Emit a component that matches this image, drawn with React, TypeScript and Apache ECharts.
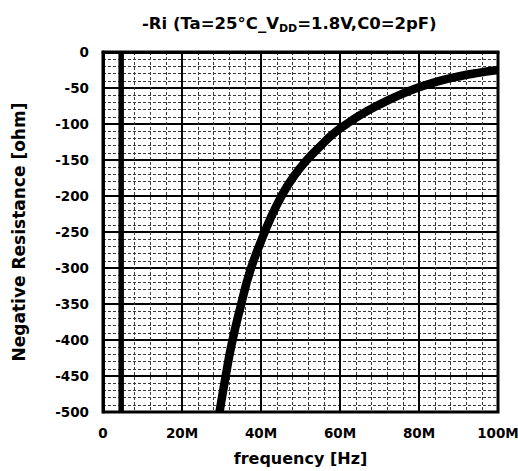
import React, { useEffect, useRef } from "react";
import * as echarts from "echarts";

const freqMHz = [29.5, 31, 32.6, 34.9, 37.2, 40, 42.5, 45.2, 48, 51.6, 55, 58, 61.7, 65, 70, 75, 80, 85, 90, 95, 100];
const negResistance = [-500, -452, -405, -352, -305, -263, -230, -200, -175, -150, -131, -115, -100, -88, -73, -60, -49, -40.5, -34, -29, -25];
const markerFreqMHz = [4.6, 4.6];
const markerValues = [0, -500];
const xTicks = [0, 20, 40, 60, 80, 100];
const yTicks = [0, -50, -100, -150, -200, -250, -300, -350, -400, -450, -500];

const FONT = "DejaVu Sans";

export default function App() {
  const ref = useRef<HTMLDivElement>(null);
  useEffect(() => {
    if (!ref.current) return;
    const chart = echarts.init(ref.current, null, { renderer: "svg" });
    const curve = freqMHz.map((f, i) => [f, negResistance[i]]);
    const marker = markerFreqMHz.map((f, i) => [f, markerValues[i]]);
    chart.setOption({
      animation: false,
      backgroundColor: "#fff",
      title: {
        text: "{a|-Ri (Ta=25°C_V}{b|DD}{a|=1.8V,C0=2pF)}",
        left: 137,
        top: 7,
        textStyle: {
          rich: {
            a: { fontFamily: FONT, fontWeight: "bold", fontSize: 16.5, color: "#000", lineHeight: 22 },
            b: { fontFamily: FONT, fontWeight: "bold", fontSize: 11, color: "#000", lineHeight: 12, verticalAlign: "bottom" },
          },
        },
      },
      grid: {
        left: 103,
        right: 20,
        top: 52,
        bottom: 59,
        show: true,
        borderColor: "#000",
        borderWidth: 3,
        outerBoundsMode: "none",
      },
      xAxis: {
        type: "value",
        min: xTicks[0],
        max: xTicks[xTicks.length - 1],
        interval: 20,
        name: "frequency [Hz]",
        nameLocation: "middle",
        nameGap: 38,
        nameTextStyle: { fontFamily: FONT, fontWeight: "bold", fontSize: 16, color: "#000" },
        axisLine: { show: true, lineStyle: { color: "#000", width: 3 } },
        axisTick: { show: false },
        minorTick: { show: false, splitNumber: 5 },
        axisLabel: {
          margin: 14,
          fontFamily: FONT,
          fontWeight: "bold",
          fontSize: 13.5,
          color: "#000",
          formatter: (v: number) => (v === 0 ? "0" : v + "M"),
        },
        splitLine: { show: true, lineStyle: { color: "#000", width: 2 } },
        minorSplitLine: { show: true, lineStyle: { color: "#3a3a3a", width: 1, type: [3, 2] } },
      },
      yAxis: {
        type: "value",
        min: yTicks[yTicks.length - 1],
        max: yTicks[0],
        interval: 50,
        name: "Negative Resistance [ohm]",
        nameLocation: "middle",
        nameGap: 76,
        nameTextStyle: { fontFamily: FONT, fontWeight: "bold", fontSize: 17, color: "#000" },
        axisLine: { show: true, lineStyle: { color: "#000", width: 3 } },
        axisTick: { show: false },
        minorTick: { show: false, splitNumber: 5 },
        axisLabel: {
          margin: 14,
          fontFamily: FONT,
          fontWeight: "bold",
          fontSize: 13.5,
          color: "#000",
        },
        splitLine: { show: true, lineStyle: { color: "#000", width: 2 } },
        minorSplitLine: { show: true, lineStyle: { color: "#3a3a3a", width: 1, type: [3, 2] } },
      },
      series: [
        {
          type: "line",
          data: marker,
          showSymbol: false,
          lineStyle: { color: "#000", width: 5.5 },
          silent: true,
        },
        {
          type: "line",
          data: curve,
          showSymbol: false,
          smooth: 0.5,
          lineStyle: { color: "#000", width: 8.5, cap: "butt", join: "round" },
          silent: true,
        },
      ],
    });
    return () => chart.dispose();
  }, []);
  return <div ref={ref} style={{ width: 518, height: 471, position: "absolute", left: 0, top: 0 }} />;
}
